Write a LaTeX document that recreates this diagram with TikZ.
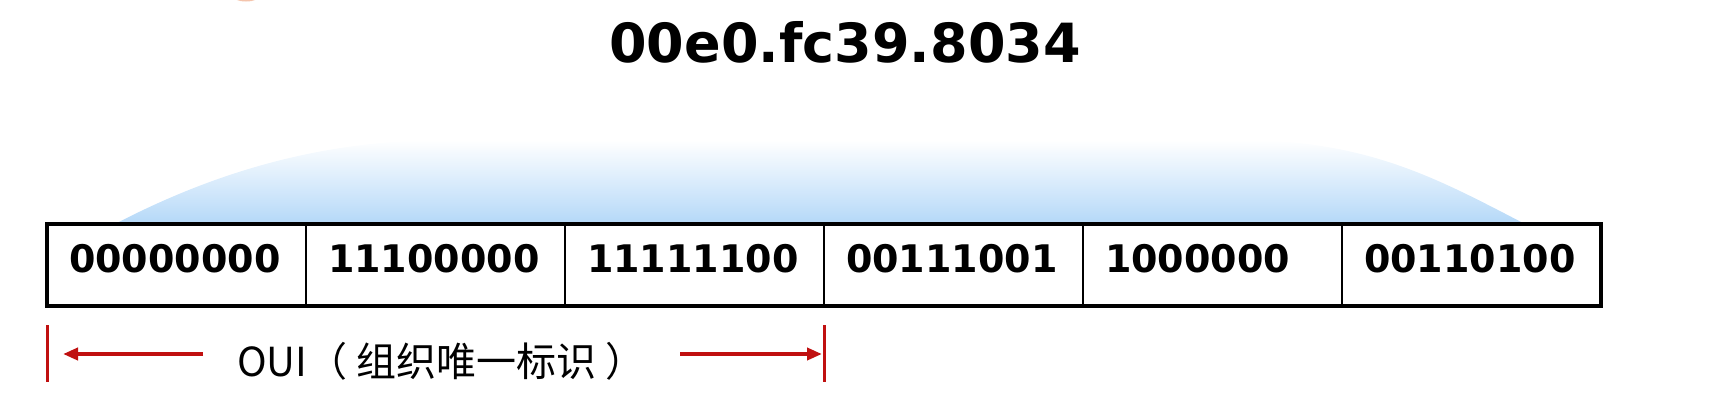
\documentclass[tikz,border=0pt]{standalone}
\usepackage{fontspec}
\setmainfont{DejaVu Sans}
\newfontfamily\cjk{Noto Sans CJK SC}
\usepackage{tikz}
\usetikzlibrary{positioning,arrows.meta}
\definecolor{fanblue}{RGB}{180,216,248}
\definecolor{fanmid}{RGB}{222,248,254}
\definecolor{ouired}{RGB}{192,16,16}
\definecolor{blob}{RGB}{244,196,172}
\tikzstyle{cell} = [draw=black, line width=2.5pt, rectangle, outer sep=0pt, inner xsep=22pt, inner ysep=20pt, text width=215pt, text height=28pt, text depth=14pt, align=left, font=\fontsize{38}{40}\selectfont\bfseries]
\tikzstyle{ouiarrow} = [draw=ouired, line width=4pt, -{Triangle[length=15pt,width=12pt]}]
\tikzstyle{ouibar} = [draw=ouired, line width=3pt]

\begin{document}
\begin{tikzpicture}[x=1pt, y=-1pt]
    \useasboundingbox (0,0) rectangle (1712,408);
    \fill[blob] (246,-4.5) ellipse (14 and 6);

    % fan above the octets
    \shade[top color=white, middle color=fanmid, bottom color=fanblue]
        (115,224) .. controls (215,172) and (320,141) .. (440,140)
        -- (1245,140) .. controls (1370,141) and (1440,180) .. (1525,224) -- cycle;

    \node[font=\fontsize{54}{60}\selectfont\bfseries, anchor=base] (title) at (845,62) {00e0.fc39.8034};

    \node [cell, anchor=north west] (c1) at (47,224) {00000000};
    \node [cell, right=0pt of c1] (c2) {11100000};
    \node [cell, right=0pt of c2] (c3) {11111100};
    \node [cell, right=0pt of c3] (c4) {00111001};
    \node [cell, right=0pt of c4] (c5) {1000000};
    \node [cell, right=0pt of c5] (c6) {00110100};
    \draw[line width=4pt] (c1.north west) rectangle (c6.south east);

    % OUI span
    \node[font=\cjk\fontsize{40}{44}\selectfont, anchor=base west, inner xsep=0pt] (oui) at (237,376) {OUI（ 组织唯一标识 ）};
    \coordinate (lbtop) at ([yshift=-19pt]c1.south west);
    \coordinate (lbbot) at ([yshift=-76pt]c1.south west);
    \coordinate (rbtop) at ([yshift=-19pt]c3.south east);
    \coordinate (rbbot) at ([yshift=-76pt]c3.south east);
    \coordinate (ltail) at (203,354);
    \coordinate (lhead) at (63,354);
    \coordinate (rtail) at (680,354);
    \coordinate (rhead) at (822,354);
    \draw[ouibar] (lbtop) -- (lbbot);
    \draw[ouibar] (rbtop) -- (rbbot);
    \draw[ouiarrow] (ltail) -- (lhead);
    \draw[ouiarrow] (rtail) -- (rhead);
\end{tikzpicture}
\end{document}
